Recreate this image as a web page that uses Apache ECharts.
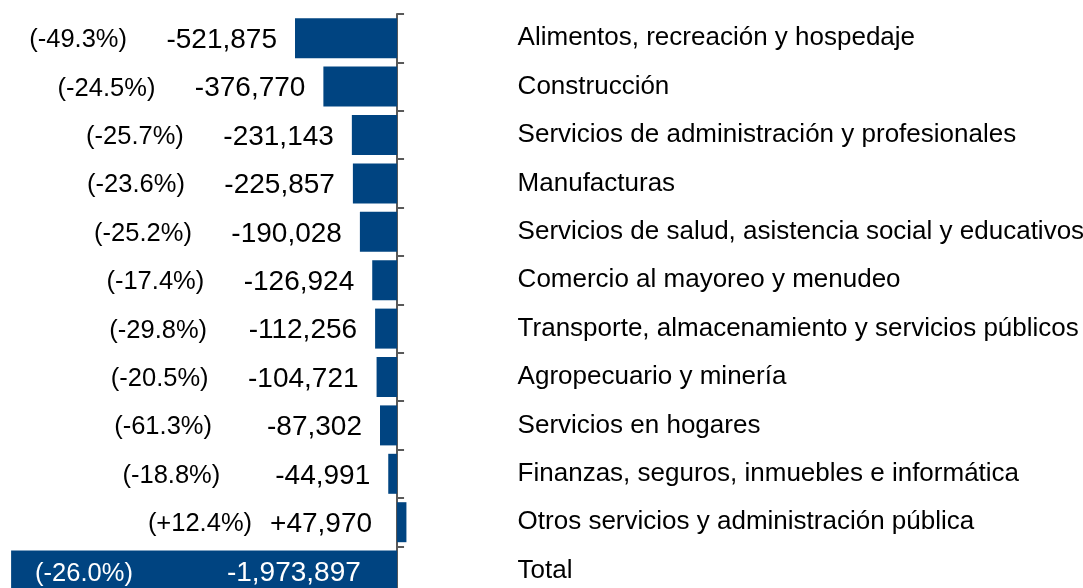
<!DOCTYPE html>
<html>
<head>
<meta charset="utf-8">
<script src="https://cdn.jsdelivr.net/npm/echarts@6/dist/echarts.min.js"></script>
<style>
html,body{margin:0;padding:0;background:#fff;}
#chart{width:1083px;height:588px;}
</style>
</head>
<body>
<div id="chart"></div>
<script>
const categories = [
  'Alimentos, recreación y hospedaje',
  'Construcción',
  'Servicios de administración y profesionales',
  'Manufacturas',
  'Servicios de salud, asistencia social y educativos',
  'Comercio al mayoreo y menudeo',
  'Transporte, almacenamiento y servicios públicos',
  'Agropecuario y minería',
  'Servicios en hogares',
  'Finanzas, seguros, inmuebles e informática',
  'Otros servicios y administración pública',
  'Total'
];
const values = [-521875, -376770, -231143, -225857, -190028, -126924, -112256, -104721, -87302, -44991, 47970, -1973897];
const pctLabels = ['(-49.3%)', '(-24.5%)', '(-25.7%)', '(-23.6%)', '(-25.2%)', '(-17.4%)', '(-29.8%)', '(-20.5%)', '(-61.3%)', '(-18.8%)', '(+12.4%)', '(-26.0%)'];

const FONT = "'Liberation Sans', Arial, sans-serif";
function fmt(v) {
  const s = Math.abs(v).toLocaleString('en-US');
  return (v < 0 ? '-' : '+') + s;
}

const seriesData = values.map(function (v, i) {
  const isTotal = categories[i] === 'Total';
  const item = { value: v };
  if (isTotal) {
    item.label = {
      position: 'insideLeft',
      distance: 24,
      offset: [0, 3],
      formatter: '{p|' + pctLabels[i] + '}{g2| }{w|' + fmt(v) + '}',
      rich: {
        p: { fontSize: 25.5, color: '#fff', fontFamily: FONT },
        g2: { width: 94 },
        w: { fontSize: 28, color: '#fff', fontFamily: FONT }
      }
    };
  } else if (v > 0) {
    item.label = {
      distance: 25,
      formatter: '{p|' + pctLabels[i] + '}{g3| }{w|' + fmt(v) + '}',
      rich: {
        p: { fontSize: 25.5, color: '#000', fontFamily: FONT },
        g3: { width: 18 },
        w: { fontSize: 28, color: '#000', fontFamily: FONT }
      }
    };
  }
  return item;
});

const chart = echarts.init(document.getElementById('chart'));
chart.setOption({
  animation: false,
  backgroundColor: '#ffffff',
  grid: { left: 6, top: 14, width: 410.6, height: 580.8, containLabel: false, outerBoundsMode: 'none' },
  xAxis: {
    type: 'value',
    min: -2000000,
    max: 100000,
    show: false
  },
  yAxis: {
    type: 'category',
    data: categories,
    inverse: true,
    position: 'right',
    axisLine: { show: true, onZero: true, lineStyle: { color: '#595959', width: 2 } },
    axisTick: { show: true, length: 7, lineStyle: { color: '#595959', width: 2 } },
    axisLabel: { margin: 101, align: 'left', fontSize: 26, color: '#000', fontFamily: FONT, padding: [4, 0, 0, 0] }
  },
  series: [{
    type: 'bar',
    data: seriesData,
    barWidth: 40,
    itemStyle: { color: '#004481' },
    label: {
      show: true,
      position: 'left',
      distance: 18,
      offset: [0, 2],
      formatter: function (p) {
        return '{p|' + pctLabels[p.dataIndex] + '}{g| }{v|' + fmt(p.value) + '}';
      },
      rich: {
        p: { fontSize: 25.5, color: '#000', fontFamily: FONT },
        g: { width: 38 },
        v: { fontSize: 28, color: '#000', fontFamily: FONT, width: 112, align: 'right' }
      }
    }
  }]
});
</script>
</body>
</html>
